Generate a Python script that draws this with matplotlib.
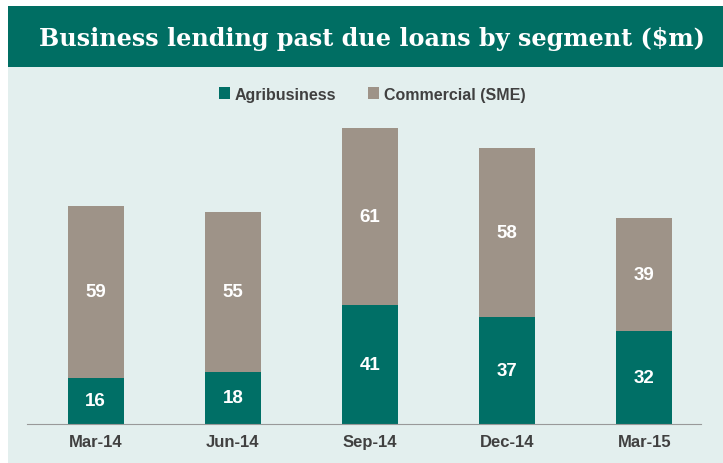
import matplotlib.pyplot as plt
from matplotlib.patches import Rectangle

quarters = ["Mar-14", "Jun-14", "Sep-14", "Dec-14", "Mar-15"]
agribusiness = [16, 18, 41, 37, 32]
commercial = [59, 55, 61, 58, 39]

teal = "#006f66"
grey = "#9e9388"
bg = "#e3efee"

fig = plt.figure(figsize=(7.23, 4.64), dpi=100)

# background panel and title banner (behind the axes)
fig.patches.append(Rectangle((0.011, 0), 0.989, 0.853, transform=fig.transFigure,
                             facecolor=bg, edgecolor="none", zorder=-2))
fig.patches.append(Rectangle((0.011, 0.853), 0.989, 0.131, transform=fig.transFigure,
                             facecolor="#006e63", edgecolor="none", zorder=-2))
fig.text(0.515, 0.917, "Business lending past due loans by segment ($m)",
         ha="center", va="center", color="white", fontsize=17.2, fontweight="bold",
         family="DejaVu Serif")

ax = fig.add_axes([0.037, 0.084, 0.932, 0.7005])
ax.set_facecolor("none")

x = range(len(quarters))
w = 0.41
b1 = ax.bar(x, agribusiness, w, color=teal, label="Agribusiness")
b2 = ax.bar(x, commercial, w, bottom=agribusiness, color=grey, label="Commercial (SME)")

for i in x:
    ax.text(i, agribusiness[i] / 2, str(agribusiness[i]), ha="center", va="center",
            color="white", fontsize=13.5, fontweight="bold", family="Liberation Sans")
    ax.text(i, agribusiness[i] + commercial[i] / 2, str(commercial[i]), ha="center",
            va="center", color="white", fontsize=13.5, fontweight="bold",
            family="Liberation Sans")

ax.set_xlim(-0.503, 4.41)
ax.set_ylim(0, 112)
ax.set_xticks(list(x))
ax.set_xticklabels(quarters, fontsize=12, fontweight="bold", color="#404040",
                   family="Liberation Sans")
ax.tick_params(axis="x", length=0, pad=7)
ax.set_yticks([])
for s in ["top", "right", "left"]:
    ax.spines[s].set_visible(False)
ax.spines["bottom"].set_color("#999999")

leg = fig.legend(handles=[b1, b2], loc="center", bbox_to_anchor=(0.515, 0.795), ncol=2,
                 frameon=False, handlelength=0.7, handleheight=0.7, handletextpad=0.3,
                 columnspacing=2.0, prop={"family": "Liberation Sans", "weight": "bold",
                                          "size": 11.5})
for t in leg.get_texts():
    t.set_color("#404040")

fig.savefig("out.png", dpi=100)
